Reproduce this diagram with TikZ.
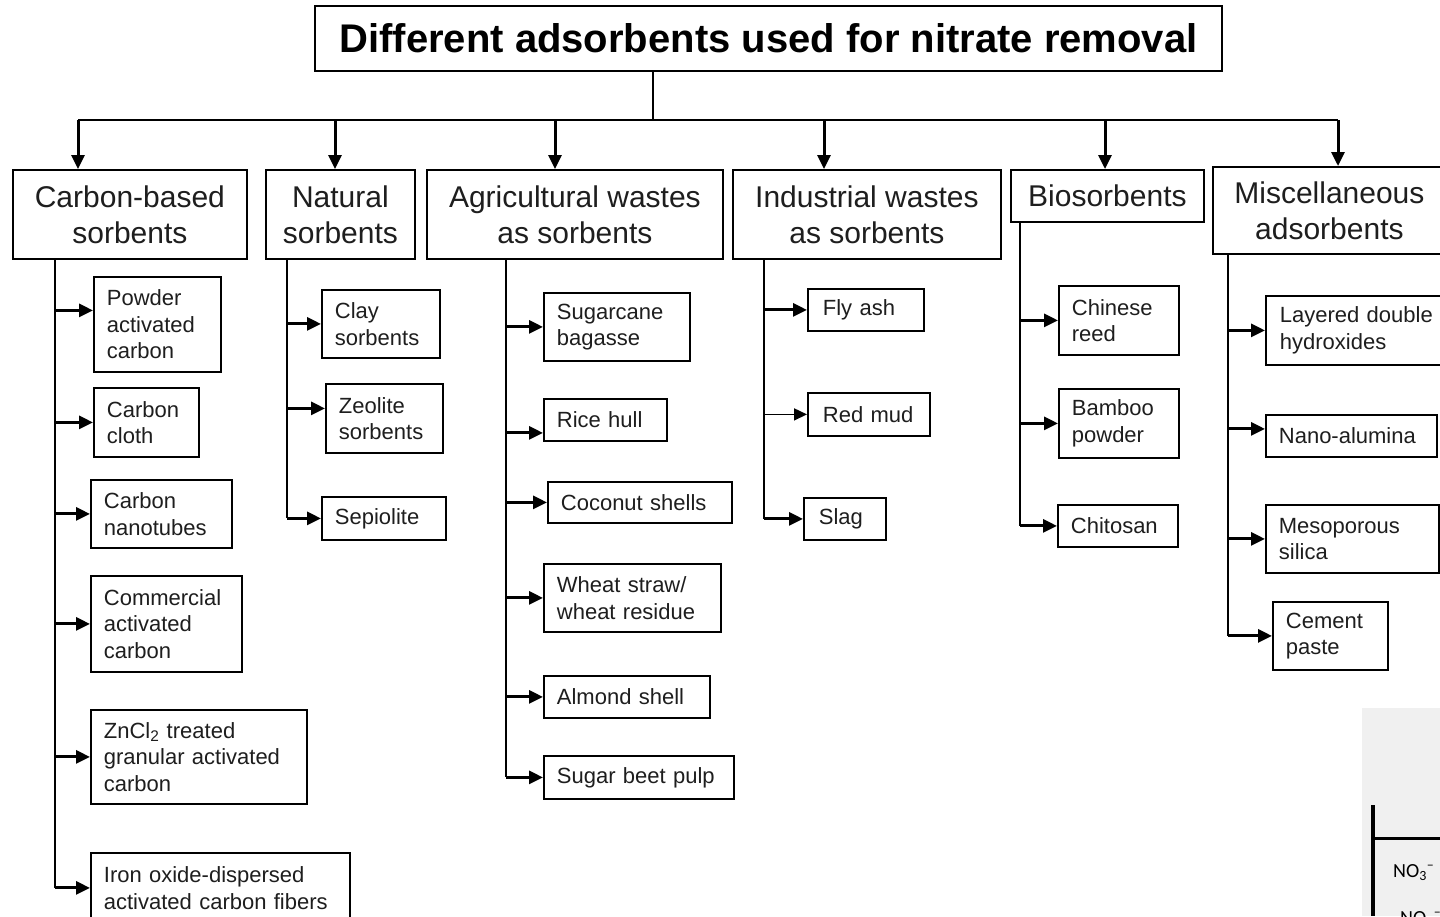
\documentclass[tikz,border=0pt]{standalone}
\usepackage{fontspec}
\setmainfont{Liberation Sans}
\newfontfamily\ionfont{Carlito}
\usepackage{tikz}
\usetikzlibrary{arrows.meta}
\definecolor{figgray}{HTML}{F0F0F0}
\definecolor{inkgray}{HTML}{1E1E1E}
\newcommand{\titlefont}{\fontsize{40}{48}\selectfont\bfseries}
\newcommand{\catfont}{\fontsize{30}{36}\selectfont}
\newcommand{\subfont}{\fontsize{22}{26.5}\selectfont}

\begin{document}
\begin{tikzpicture}[
  x=1pt,y=-1pt,
  title/.style={draw,line width=2pt,font=\titlefont,anchor=north west,inner sep=0pt,minimum width=907pt,minimum height=65pt},
  cat/.style={draw,line width=1.8pt,font=\catfont,text=inkgray,align=center,anchor=north west,inner sep=0pt},
  sub/.style 2 args={draw,line width=1.8pt,font=\subfont,text=inkgray,align=left,anchor=north west,inner xsep=13pt,inner ysep=0pt,text width=#1,minimum height=#2},
  arr/.style={-{Triangle[length=14pt,width=13pt]},line width=3pt},
  thinarr/.style={-{Triangle[length=13pt,width=12pt]},line width=1.6pt},
  ln/.style={line width=2.2pt},
]
\fill[white] (0,0) rectangle (1440,916);
\useasboundingbox (0,0) rectangle (1440,916);
\clip (0,0) rectangle (1440,916);

% Title
\node[title] (title) at (314,5) {Different adsorbents used for nitrate removal};

% Categories
\node[cat,minimum width=234pt,minimum height=89pt] (carb) at (12,169) {Carbon-based\\sorbents};
\node[cat,minimum width=149pt,minimum height=89pt] (nat) at (265,169) {Natural\\sorbents};
\node[cat,minimum width=296pt,minimum height=89pt] (agr) at (426,169) {Agricultural wastes\\as sorbents};
\node[cat,minimum width=268pt,minimum height=89pt] (ind) at (732,169) {Industrial wastes\\as sorbents};
\node[cat,minimum width=193pt,minimum height=52pt] (bio) at (1010,169) {Biosorbents};
\node[cat,minimum width=233pt,minimum height=87pt] (misc) at (1212,166) {Miscellaneous\\adsorbents};

% Bus from the title
\coordinate (tj) at (653,120);
\coordinate (b1) at (78,120);
\coordinate (b2) at (335,120);
\coordinate (b3) at (555,120);
\coordinate (b4) at (824,120);
\coordinate (b5) at (1105,120);
\coordinate (b6) at (1338,120);
\draw[ln] (tj |- title.south) -- (tj);
\draw[ln] (b1) -- (b6);
\draw[arr] (b1) -- (b1 |- carb.north);
\draw[arr] (b2) -- (b2 |- nat.north);
\draw[arr] (b3) -- (b3 |- agr.north);
\draw[arr] (b4) -- (b4 |- ind.north);
\draw[arr] (b5) -- (b5 |- bio.north);
\draw[arr] (b6) -- (b6 |- misc.north);

% Carbon-based
\node[sub={101pt}{95pt}] (pac) at (93,276) {Powder\\activated\\carbon};
\node[sub={79pt}{69pt}] (cc) at (93,387) {Carbon\\cloth};
\node[sub={115pt}{68pt}] (cnt) at (90,479) {Carbon\\nanotubes};
\node[sub={125pt}{96pt}] (cac) at (90,575) {Commercial\\activated\\carbon};
\node[sub={190pt}{94pt}] (zn) at (90,709) {ZnCl\textsubscript{2} treated\\granular activated\\carbon};
\node[sub={233pt}{70pt}] (iofc) at (90,852) {Iron oxide-dispersed\\activated carbon fibers};

% Natural
\node[sub={92pt}{68pt}] (clay) at (321,289) {Clay\\sorbents};
\node[sub={91pt}{69pt}] (zeo) at (325,383) {Zeolite\\sorbents};
\node[sub={98pt}{43pt}] (sep) at (321,496) {Sepiolite};

% Agricultural
\node[sub={120pt}{68pt}] (cane) at (543,292) {Sugarcane\\bagasse};
\node[sub={97pt}{42pt}] (rice) at (543,398) {Rice hull};
\node[sub={158pt}{41pt}] (coco) at (547,481) {Coconut shells};
\node[sub={151pt}{68pt}] (wheat) at (543,563) {Wheat straw/\\wheat residue};
\node[sub={140pt}{42pt}] (alm) at (543,675) {Almond shell};
\node[sub={164pt}{43pt}] (beet) at (543,755) {Sugar beet pulp};

% Industrial
\node[sub={86pt}{42pt},inner xsep=15pt] (fly) at (807,288) {Fly ash};
\node[sub={92pt}{43pt},inner xsep=15pt] (red) at (807,392) {Red mud};
\node[sub={52pt}{42pt},inner xsep=15pt] (slag) at (803,497) {Slag};

% Biosorbents
\node[sub={94pt}{69pt}] (reed) at (1058,285) {Chinese\\reed};
\node[sub={94pt}{69pt}] (bamb) at (1058,388) {Bamboo\\powder};
\node[sub={94pt}{42pt}] (chit) at (1057,504) {Chitosan};

% Miscellaneous
\node[sub={156pt}{69pt},inner xsep=14pt] (ldh) at (1265,295) {Layered double\\hydroxides};
\node[sub={145pt}{42pt}] (nano) at (1265,414) {Nano-alumina};
\node[sub={147pt}{68pt}] (meso) at (1265,504) {Mesoporous\\silica};
\node[sub={89pt}{68pt}] (cem) at (1272,601) {Cement\\paste};

% Stems
\coordinate (s1) at (55,258);
\coordinate (s2) at (287,258);
\coordinate (s3) at (506,258);
\coordinate (s4) at (764,258);
\coordinate (s5) at (1020,221);
\coordinate (s6) at (1228,253);
\draw[ln] (s1) -- (s1 |- iofc.west);
\draw[ln] (s2) -- (s2 |- sep.west);
\draw[ln] (s3) -- (s3 |- beet.west);
\draw[ln] (s4) -- (s4 |- slag.west);
\draw[ln] (s5) -- (s5 |- chit.west);
\draw[ln] (s6) -- (s6 |- cem.west);

% Branch arrows
\coordinate (pacin) at ([yshift=14pt]pac.west);
\coordinate (zeoin) at ([yshift=10pt]zeo.west);
\coordinate (ricein) at ([yshift=-13pt]rice.west);
\coordinate (nanoin) at ([yshift=7pt]nano.west);
\draw[arr] (s1 |- pacin) -- (pacin);
\foreach \n in {cc,cnt,cac,zn,iofc}
  \draw[arr] (s1 |- \n.west) -- (\n.west);
\draw[arr] (s2 |- clay.west) -- (clay.west);
\draw[arr] (s2 |- zeoin) -- (zeoin);
\draw[arr] (s2 |- sep.west) -- (sep.west);
\draw[arr] (s3 |- ricein) -- (ricein);
\foreach \n in {cane,coco,wheat,alm,beet}
  \draw[arr] (s3 |- \n.west) -- (\n.west);
\draw[arr] (s4 |- fly.west) -- (fly.west);
\draw[thinarr] (s4 |- red.west) -- (red.west);
\draw[arr] (s4 |- slag.west) -- (slag.west);
\foreach \n in {reed,bamb,chit}
  \draw[arr] (s5 |- \n.west) -- (\n.west);
\draw[arr] (s6 |- nanoin) -- (nanoin);
\foreach \n in {ldh,meso,cem}
  \draw[arr] (s6 |- \n.west) -- (\n.west);

% Corner of the next figure
\fill[figgray] (1362,708) rectangle (1440,916);
\draw[line width=4pt] (1373,805) -- (1373,916);
\draw[line width=3pt] (1373,838) -- (1440,838);
\node[font=\ionfont\fontsize{20}{22}\selectfont,anchor=base west,inner sep=0pt] (ion1) at (1393,877) {NO\textsubscript{3}\textsuperscript{–}};
\node[font=\ionfont\fontsize{20}{22}\selectfont,anchor=base west,inner sep=0pt] (ion2) at (1400,924) {NO\textsubscript{3}\textsuperscript{–}};
\end{tikzpicture}
\end{document}
